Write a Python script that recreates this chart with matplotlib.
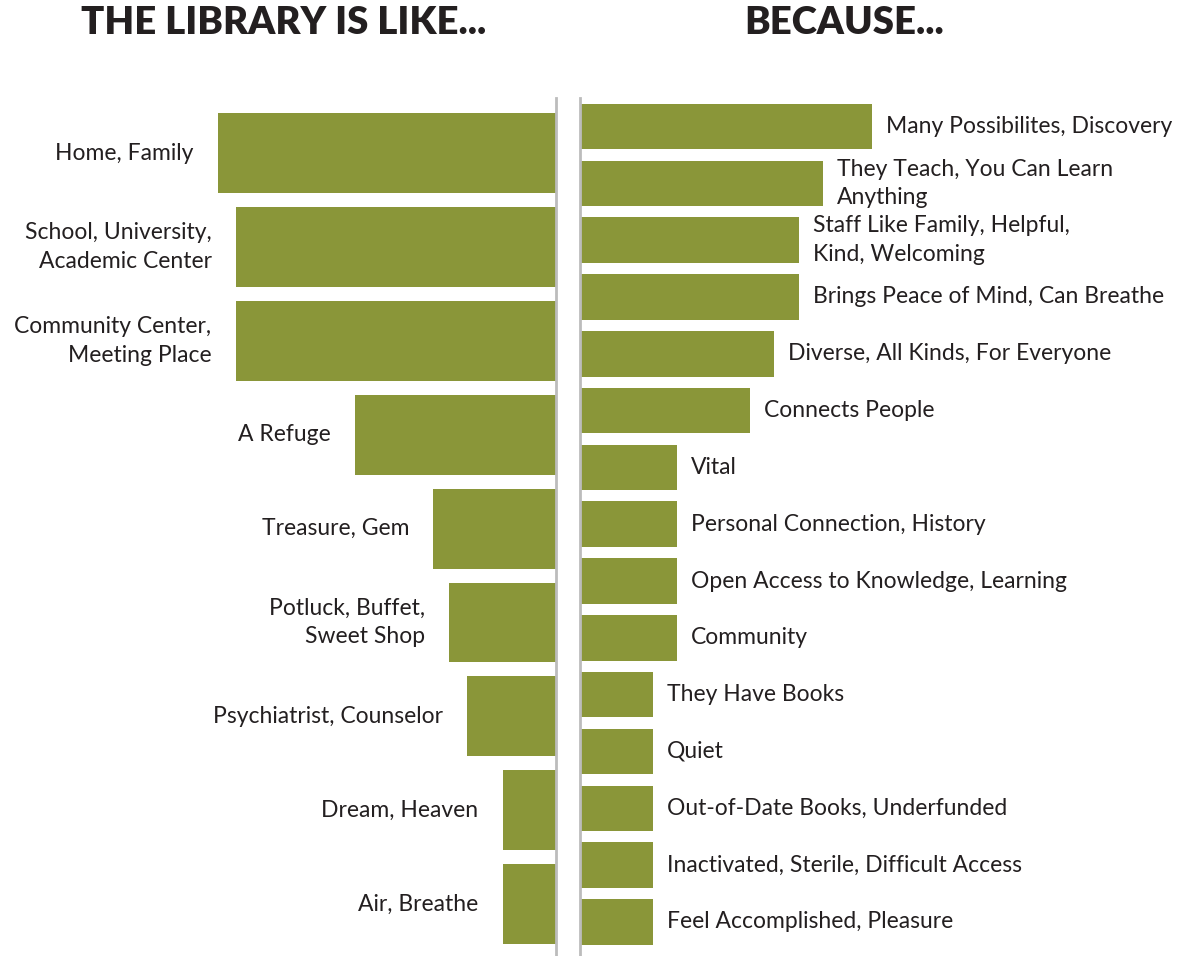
import matplotlib
matplotlib.use("Agg")
import matplotlib.pyplot as plt

# THE LIBRARY IS LIKE...
like_labels = ["Home, Family", "School, University,\nAcademic Center",
               "Community Center,\nMeeting Place", "A Refuge", "Treasure, Gem",
               "Potluck, Buffet,\nSweet Shop", "Psychiatrist, Counselor",
               "Dream, Heaven", "Air, Breathe"]
like_values = [19, 18, 18, 11.3, 6.9, 6, 5, 3, 3]

# BECAUSE...
because_labels = ["Many Possibilites, Discovery", "They Teach, You Can Learn\nAnything",
                  "Staff Like Family, Helpful,\nKind, Welcoming",
                  "Brings Peace of Mind, Can Breathe", "Diverse, All Kinds, For Everyone",
                  "Connects People", "Vital", "Personal Connection, History",
                  "Open Access to Knowledge, Learning", "Community", "They Have Books",
                  "Quiet", "Out-of-Date Books, Underfunded",
                  "Inactivated, Sterile, Difficult Access", "Feel Accomplished, Pleasure"]
because_values = [12, 10, 9, 9, 8, 7, 4, 4, 4, 4, 3, 3, 3, 3, 3]

plt.rcParams['font.family'] = ['Lato', 'DejaVu Sans']
green = "#8a9639"
txt = "#231f20"
line = "#bcbcbc"

W, H = 1180, 956
fig = plt.figure(figsize=(W / 100, H / 100), dpi=100)

# left panel, bars grow to the left from x=556px
axl = fig.add_axes([0, 0, 556 / W, (H - 98) / H])
ypos_l = list(range(len(like_values)))
axl.barh(ypos_l, like_values, height=0.85, color=green)
axl.set_xlim(556 / 17.8, 0)
axl.set_ylim(8.552, -0.586)
for y, v, lab in zip(ypos_l, like_values, like_labels):
    axl.text(v + 1.35, y, lab, ha="right", va="center", fontsize=16.5,
             color=txt, linespacing=1.45)

# right panel, bars grow to the right from x=580px
axr = fig.add_axes([580 / W, 0, 600 / W, (H - 98) / H])
ypos_r = list(range(len(because_values)))
axr.barh(ypos_r, because_values, height=0.80, color=green)
axr.set_xlim(0, 600 / 24.3)
axr.set_ylim(14.60, -0.502)
for y, v, lab in zip(ypos_r, because_values, because_labels):
    axr.text(v + 0.58, y, lab, ha="left", va="center", fontsize=16.5,
             color=txt, linespacing=1.45)

for ax in (axl, axr):
    ax.set_xticks([])
    ax.set_yticks([])
    for s in ax.spines.values():
        s.set_visible(False)
axl.spines["right"].set_visible(True)
axl.spines["right"].set_color(line)
axl.spines["right"].set_linewidth(2)
axr.spines["left"].set_visible(True)
axr.spines["left"].set_color(line)
axr.spines["left"].set_linewidth(2)

fig.text(284 / W, 1 - 23 / H, "THE LIBRARY IS LIKE...", ha="center", va="center",
         fontsize=27.5, fontweight="heavy", color=txt)
fig.text(844 / W, 1 - 23 / H, "BECAUSE...", ha="center", va="center",
         fontsize=27.5, fontweight="heavy", color=txt)

fig.savefig("out.png", dpi=100)
